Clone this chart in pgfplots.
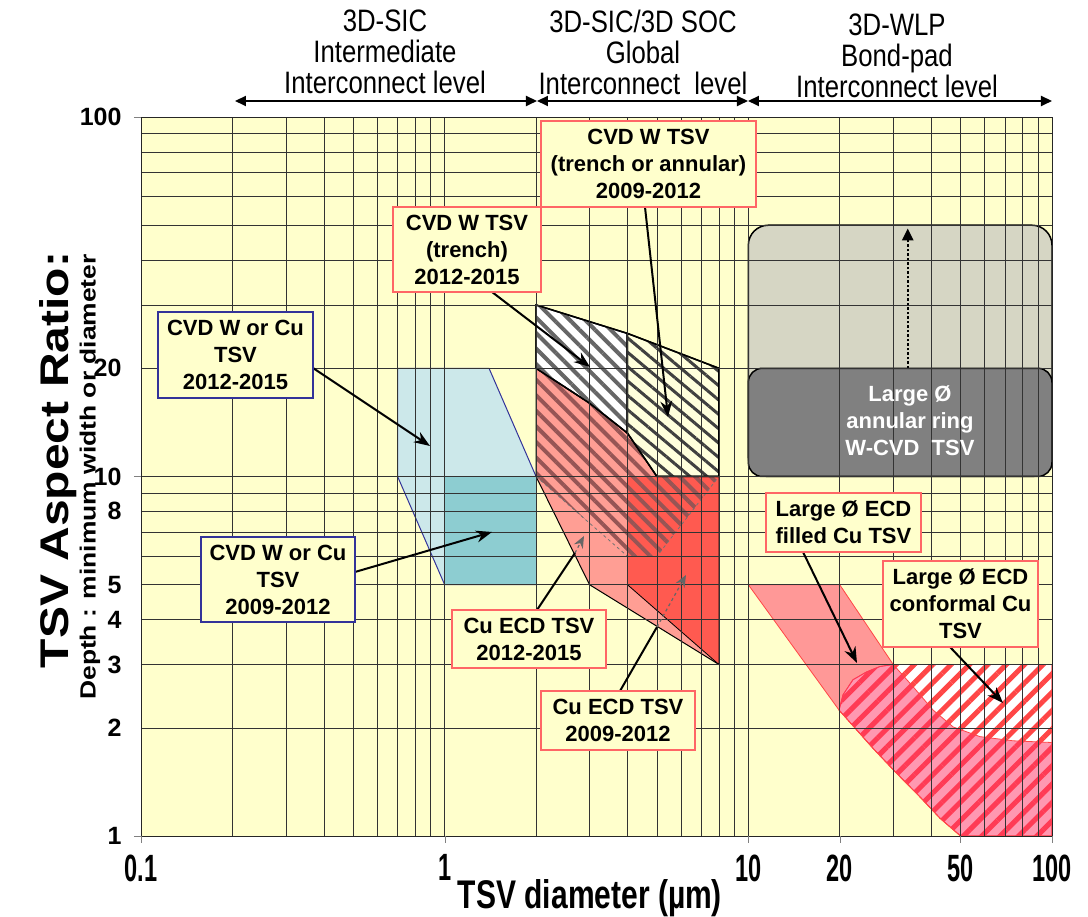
\documentclass[border=0pt]{standalone}
\usepackage{fontspec}
\setmainfont{Liberation Sans}
\usepackage{pgfplots}
\pgfplotsset{compat=1.18}
\usetikzlibrary{patterns.meta,arrows.meta}
\newfontfamily\hdrfont[FakeStretch=0.83]{Liberation Sans}
\newfontfamily\xtfont[FakeStretch=0.62]{Liberation Sans}
\newfontfamily\xlabfont[FakeStretch=0.75]{Liberation Sans}
\newfontfamily\ylabfont[FakeStretch=1.2]{Liberation Sans}
\newfontfamily\ylabtwofont[FakeStretch=1.2]{Liberation Sans}
\definecolor{bgy}{RGB}{255,255,204}
\definecolor{boxy}{RGB}{255,255,204}
\definecolor{lblue}{RGB}{204,232,234}
\definecolor{teal2}{RGB}{141,205,209}
\definecolor{dblue}{RGB}{51,51,153}
\definecolor{pinkr}{RGB}{255,158,148}
\definecolor{darkr}{RGB}{255,90,80}
\definecolor{stripr}{RGB}{150,85,85}
\definecolor{boxred}{RGB}{255,102,102}
\definecolor{cream}{RGB}{255,255,220}
\definecolor{lgray}{RGB}{214,214,196}
\definecolor{mgray}{RGB}{128,128,128}
\definecolor{bandr}{RGB}{255,70,70}
\definecolor{bandf}{RGB}{255,50,100}
\begin{document}
\begin{tikzpicture}
\useasboundingbox (-141bp,-81bp) rectangle (947bp,836bp);
\begin{axis}[
  at={(0,0)}, anchor=south west,
  scale only axis, width=911bp, height=719bp,
  xmode=log, ymode=log,
  xmin=0.1, xmax=100, ymin=1, ymax=100,
  axis background/.style={fill=bgy},
  axis on top, clip=false,
  xtick={0.1,1,10,20,50,100},
  xticklabels={0.1,1,10,20,50,100},
  minor xtick={0.2,0.3,0.4,0.5,0.6,0.7,0.8,0.9,2,3,4,5,6,7,8,9,30,40,60,70,80,90},
  ytick={1,2,3,4,5,8,10,20,100}, yticklabels={1,2,3,4,5,8,10,20,100},
  minor ytick={6,7,9,30,40,50,60,70,80,90},
  extra x ticks={0.1,1,10,20,50,100}, extra x tick labels={},
  extra y ticks={1,10,100}, extra y tick labels={},
  extra tick style={major tick length=7bp, grid=none},
  grid=both,
  major grid style={black!80,line width=0.55bp},
  minor grid style={black!80,line width=0.55bp},
  tick align=outside, xtick pos=bottom, ytick pos=left,
  major tick length=0pt, minor tick length=0pt,
  axis line style={black!85, line width=0.8bp},
  xticklabel style={font=\xtfont\bfseries\fontsize{38bp}{38bp}\selectfont, yshift=-15bp},
  yticklabel style={font=\bfseries\fontsize{25bp}{25bp}\selectfont, xshift=-16bp},
]
% CVD W or Cu 2012-2015 (light blue)
\addplot[draw=dblue, line width=1bp, fill=lblue] coordinates {(0.7,20) (1.4,20) (2,10) (2,5) (1,5) (0.7,10)} -- cycle;
% CVD W or Cu 2009-2012 (teal)
\addplot[draw=dblue, line width=1bp, fill=teal2] coordinates {(1,5) (2,5) (2,10) (1,10)} -- cycle;
% Cu ECD 2012-2015 (pink)
\addplot[draw=black, line width=1bp, fill=pinkr] coordinates {(2,20) (3,16) (4,13.2) (5,10) (8,10) (8,3) (3,5) (2,10)} -- cycle;
% Cu ECD 2009-2012 (dark red)
\addplot[draw=black, line width=0.8bp, fill=darkr] coordinates {(4,10) (8,10) (8,3) (4,5)} -- cycle;
% stripes of 2012-2015 region
\addplot[draw=none, fill opacity=0.25, pattern={Lines[angle=-45,distance=11bp,line width=4bp]}, pattern color=stripr] coordinates {(2,20) (3,16) (4,13.2) (5,10) (8,10) (5,6) (4,6) (2,10)} -- cycle;
\addplot[draw=black!55, dashed, line width=0.8bp] coordinates {(2,10) (4,6) (5,6) (8,10)};
% CVD W trench 2012-2015
\addplot[draw=black, line width=1.5bp, preaction={fill=white}, pattern={Lines[angle=-45,distance=11bp,line width=4bp]}, pattern color=black!60] coordinates {(2,30) (4,25) (4,13.2) (3,16) (2,20)} -- cycle;
% CVD W trench or annular 2009-2012
\addplot[draw=black, line width=1.5bp, preaction={fill=cream}, pattern={Lines[angle=-40,distance=11bp,line width=3bp]}, pattern color=black!75] coordinates {(4,25) (8,20) (8,10) (5,10) (4,13.2)} -- cycle;
% Large annular ring W-CVD
\addplot[draw=black, line width=1.5bp, fill=lgray, rounded corners=20bp] coordinates {(10,10) (100,10) (100,50) (10,50)} -- cycle;
\addplot[draw=black, line width=1.5bp, fill=mgray, rounded corners=14bp] coordinates {(10,10) (100,10) (100,20) (10,20)} -- cycle;
\addplot[black, line width=2.5bp, dotted, -{Triangle[length=12bp,width=11bp]}] coordinates {(33.5,20) (33.5,49)};
% Large conformal Cu
\addplot[draw=bandr, line width=0.8bp, preaction={fill=white}, pattern={Lines[angle=45,distance=13bp,line width=5bp]}, pattern color=bandr] coordinates {(19.9,2.24) (20.5,2.47) (22.1,2.72) (24.5,2.86) (27.1,2.96) (30,3) (100,3) (100,1) (50,1) (42.8,1.12) (36.7,1.286) (30.8,1.494) (25.8,1.75)} -- cycle;
% Large filled Cu band
\addplot[draw=bandr, line width=0.8bp, fill=bandf, fill opacity=0.5] coordinates {(10,5) (20,5) (30,3) (34.9,2.6) (40.6,2.24) (47.3,2.01) (57.9,1.89) (74.5,1.84) (100,1.82) (100,1) (50,1) (42.8,1.12) (36.7,1.286) (30.8,1.494) (25.8,1.75) (19.9,2.24)} -- cycle;
\end{axis}
\begin{scope}[x=1bp, y=-1bp, shift={(-141bp,836bp)}]
  % header
  \begin{scope}[font=\hdrfont\fontsize{31bp}{31bp}\selectfont]
    \node[align=center] at (385,52) {3D-SIC\\Intermediate\\Interconnect level};
    \node[align=center] at (643,52) {3D-SIC/3D SOC\\Global\\Interconnect\ \ level};
    \node[align=center] at (897,56) {3D-WLP\\Bond-pad\\Interconnect level};
  \end{scope}
  \draw[line width=2bp, {Triangle[length=11bp,width=10bp]}-{Triangle[length=11bp,width=10bp]}] (235,101) -- (537,101);
  \draw[line width=2bp, {Triangle[length=11bp,width=10bp]}-{Triangle[length=11bp,width=10bp]}] (537,101) -- (748,101);
  \draw[line width=2bp, {Triangle[length=11bp,width=10bp]}-{Triangle[length=11bp,width=10bp]}] (748,101) -- (1052,101);
  % axis labels
  \node[font=\xlabfont\bfseries\fontsize{40bp}{40bp}\selectfont] at (590,898) {TSV diameter (µm)};
  \node[rotate=90, font=\ylabfont\bfseries\fontsize{40bp}{40bp}\selectfont] at (58,460) {TSV Aspect Ratio:};
  \node[rotate=90, font=\ylabtwofont\bfseries\fontsize{22bp}{22bp}\selectfont] at (90,477) {Depth : minimum width or diameter};
  % arrows
  \begin{scope}[line width=2bp, -{Stealth[length=16bp,width=12bp]}]
    \draw (313,368) -- (430,446);
    \draw (355,572) -- (492,532);
    \draw (492,292) -- (590,367);
    \draw (645,207) -- (668,417);
    \draw (803,552) -- (857,663);
    \draw (950,647) -- (1003,703);
  \end{scope}
  \draw[line width=2bp] (537,610) -- (575,553);
  \draw[line width=1.2bp, dashed, black!60, -{Stealth[length=12bp,width=10bp]}] (575,553) -- (584,536);
  \draw[line width=2bp] (620,691) -- (657,627);
  \draw[line width=1.2bp, dashed, black!60, -{Stealth[length=12bp,width=10bp]}] (657,627) -- (686,575);
  % boxes
  \begin{scope}[every node/.style={font=\bfseries\fontsize{22bp}{27bp}\selectfont, align=center, fill=boxy, line width=1.5bp, inner sep=0pt}]
    \node[draw=dblue, minimum width=155bp, minimum height=86bp] at (235.5,355) {CVD W or Cu\\TSV\\2012-2015};
    \node[draw=dblue, minimum width=154bp, minimum height=85bp] at (278,579.5) {CVD W or Cu\\TSV\\2009-2012};
    \node[draw=boxred, minimum width=215bp, minimum height=86bp] at (648.5,164) {CVD W TSV\\(trench or annular)\\2009-2012};
    \node[draw=boxred, minimum width=148bp, minimum height=85bp] at (467,249.5) {CVD W TSV\\(trench)\\2012-2015};
    \node[draw=boxred, minimum width=154bp, minimum height=58bp] at (529,639) {Cu ECD TSV\\2012-2015};
    \node[draw=boxred, minimum width=154bp, minimum height=59bp] at (618,720.5) {Cu ECD TSV\\2009-2012};
    \node[draw=boxred, minimum width=155bp, minimum height=59bp] at (843.5,522.5) {Large Ø ECD\\filled Cu TSV};
    \node[draw=boxred, minimum width=155bp, minimum height=86bp] at (960.5,604) {Large Ø ECD\\conformal Cu\\TSV};
  \end{scope}
  \node[font=\bfseries\fontsize{22bp}{27bp}\selectfont, align=center, text=white] at (910,421) {Large Ø\\annular ring\\W-CVD\ \ TSV};
\end{scope}
\end{tikzpicture}
\end{document}
